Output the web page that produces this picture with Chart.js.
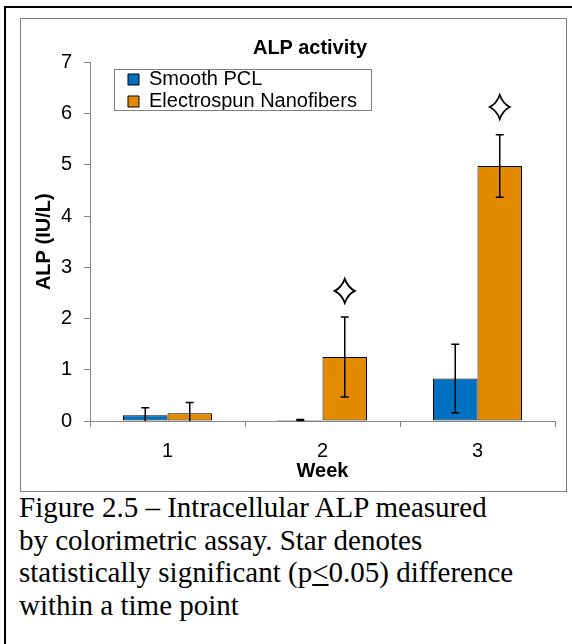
<!DOCTYPE html>
<html>
<head>
<meta charset="utf-8">
<script src="https://cdn.jsdelivr.net/npm/chart.js@4/dist/chart.umd.min.js"></script>
<style>
  html, body { margin: 0; padding: 0; background: #fff; }
  body { width: 572px; height: 644px; position: relative; overflow: hidden; }
  .frame {
    position: absolute; left: 4px; top: 6px; width: 620px; height: 700px;
    border-left: 2px solid #000; border-top: 2px solid #000;
  }
  .plot-box {
    position: absolute; left: 20px; top: 18px; width: 545px; height: 472px;
    border: 1px solid #808080;
  }
  .plot-box canvas { display: block; }
  .chart-title {
    position: absolute; left: 0; top: 35px; width: 620px; text-align: center;
    font: bold 20px 'Liberation Sans', Arial, sans-serif; line-height: 24px; color: #000;
  }
  .caption {
    position: absolute; left: 19px; top: 491px; white-space: nowrap;
    font: 29px 'Liberation Serif', 'Times New Roman', serif; line-height: 32.5px; color: #000;
  }
</style>
</head>
<body>
<div class="frame"></div>
<div class="plot-box"><canvas id="alp-chart" width="545" height="472"></canvas></div>
<div class="chart-title">ALP activity</div>
<div class="caption">Figure 2.5 – Intracellular ALP measured<br>by colorimetric assay. Star denotes<br>statistically significant (p<u>&lt;</u>0.05) difference<br>within a time point</div>
<script>
var WEEKS = ['1', '2', '3'];

var SMOOTH_PCL     = [0.11, 0.02, 0.83];
var SMOOTH_PCL_ERR = [0.15, 0.01, 0.67];

var NANOFIBERS     = [0.15, 1.25, 4.98];
var NANOFIBERS_ERR = [0.21, 0.78, 0.61];

// star height (in IU/L) above the nanofiber bar, null = not significant
var STAR_AT = [null, 2.54, 6.13];

var Y_TICKS = [0, 1, 2, 3, 4, 5, 6, 7];

(function() {
  'use strict';

  var BLUE   = '#0070c0';
  var ORANGE = '#e48a00';
  var AXIS   = '#868686';
  var FONT   = "'Liberation Sans', Arial, sans-serif";

  var ERRORS = [SMOOTH_PCL_ERR, NANOFIBERS_ERR];

  /* error bars, drawn on top of each bar element */
  var errorBars = {
    id: 'errorBars',
    afterDatasetsDraw: function(chart) {
      var ctx = chart.ctx;
      var y = chart.scales.y;
      ctx.save();
      ctx.strokeStyle = '#000';
      ctx.lineWidth = 1.5;
      chart.data.datasets.forEach(function(ds, di) {
        var meta = chart.getDatasetMeta(di);
        meta.data.forEach(function(bar, i) {
          var v = ds.data[i], e = ERRORS[di][i];
          var top = y.getPixelForValue(v + e);
          var low = v - e;
          var bottom = y.getPixelForValue(Math.max(low, 0));
          ctx.beginPath();
          ctx.moveTo(bar.x, top);
          ctx.lineTo(bar.x, bottom);
          ctx.moveTo(bar.x - 4, top);
          ctx.lineTo(bar.x + 4, top);
          if (low > 0) {
            ctx.moveTo(bar.x - 4, bottom);
            ctx.lineTo(bar.x + 4, bottom);
          }
          ctx.stroke();
        });
      });
      ctx.restore();
    }
  };

  /* 4-point significance stars over the nanofiber bars */
  var stars = {
    id: 'stars',
    afterDatasetsDraw: function(chart) {
      var ctx = chart.ctx;
      var meta = chart.getDatasetMeta(1);
      var w = 10, h = 12, k = 0.3;
      ctx.save();
      ctx.fillStyle = '#fff';
      ctx.strokeStyle = '#000';
      ctx.lineWidth = 1.8;
      STAR_AT.forEach(function(v, i) {
        if (v === null) return;
        var cx = meta.data[i].x;
        var cy = chart.scales.y.getPixelForValue(v);
        ctx.beginPath();
        ctx.moveTo(cx, cy - h);
        ctx.quadraticCurveTo(cx + w * k, cy - h * k, cx + w, cy);
        ctx.quadraticCurveTo(cx + w * k, cy + h * k, cx, cy + h);
        ctx.quadraticCurveTo(cx - w * k, cy + h * k, cx - w, cy);
        ctx.quadraticCurveTo(cx - w * k, cy - h * k, cx, cy - h);
        ctx.closePath();
        ctx.fill();
        ctx.stroke();
      });
      ctx.restore();
    }
  };

  /* legend sits inside the plot with a grey frame, like the Excel one */
  var legendBox = {
    id: 'legendBox',
    afterLayout: function(chart) {
      var lg = chart.legend;
      lg.left = chart.chartArea.left + 36;
      lg.top = chart.chartArea.top + 5;
    },
    beforeDatasetsDraw: function(chart) {
      var lg = chart.legend;
      var ctx = chart.ctx;
      var maxW = 0;
      lg.legendHitBoxes.forEach(function(b) { maxW = Math.max(maxW, b.width); });
      ctx.save();
      ctx.strokeStyle = '#808080';
      ctx.lineWidth = 1;
      ctx.strokeRect(Math.round(lg.left - 12) + 0.5, Math.round(lg.top + 1.5) + 0.5,
                     Math.round(maxW + 28), 41);
      ctx.restore();
    }
  };

  new Chart(document.getElementById('alp-chart'), {
    type: 'bar',
    data: {
      labels: WEEKS,
      datasets: [
        {
          label: 'Smooth PCL',
          data: SMOOTH_PCL,
          backgroundColor: BLUE,
          borderColor: '#000',
          borderWidth: 1,
          borderSkipped: false
        },
        {
          label: 'Electrospun Nanofibers',
          data: NANOFIBERS,
          backgroundColor: ORANGE,
          borderColor: '#000',
          borderWidth: 1,
          borderSkipped: false
        }
      ]
    },
    options: {
      responsive: false,
      animation: false,
      categoryPercentage: 0.574,
      barPercentage: 1,
      layout: { padding: { top: 43.5, right: 11, bottom: 0, left: 0 } },
      plugins: {
        legend: {
          position: 'chartArea',
          align: 'start',
          labels: {
            color: '#000',
            font: { family: FONT, size: 20 },
            boxWidth: 11,
            boxHeight: 11,
            padding: 2
          }
        },
        tooltip: { enabled: false }
      },
      scales: {
        x: {
          afterFit: function(s) { s.height = 70; },
          ticks: { color: '#000', font: { family: FONT, size: 20 }, padding: 12 },
          grid: { drawOnChartArea: false, tickLength: 6, color: AXIS },
          border: { color: AXIS },
          title: {
            display: true, text: 'Week', color: '#000',
            font: { family: FONT, size: 20, weight: 'bold' }, padding: 8
          }
        },
        y: {
          min: 0,
          max: 7,
          afterFit: function(s) { s.width = 69; },
          afterBuildTicks: function(s) {
            s.ticks = Y_TICKS.map(function(v) { return { value: v }; });
          },
          ticks: { color: '#000', font: { family: FONT, size: 20 }, padding: 12 },
          grid: { drawOnChartArea: false, tickLength: 6, color: AXIS },
          border: { color: AXIS },
          title: {
            display: true, text: 'ALP (IU/L)', color: '#000',
            font: { family: FONT, size: 20, weight: 'bold' }, padding: 11
          }
        }
      }
    },
    plugins: [legendBox, errorBars, stars]
  });
})();
</script>
</body>
</html>
